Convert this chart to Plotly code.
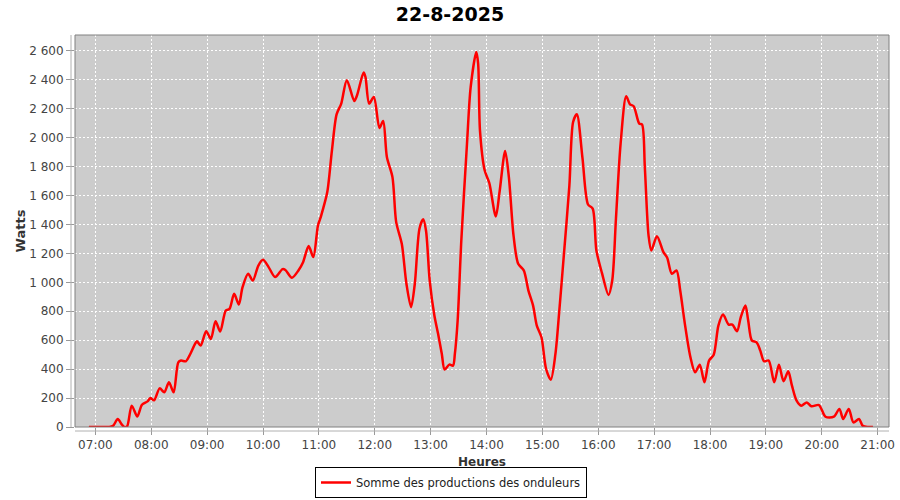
import plotly.graph_objects as go

DAY = "2025-08-22"
times = ["06:53","07:00","07:08","07:15","07:19","07:24","07:28","07:31","07:34","07:39",
         "07:45","07:50","07:56","07:59","08:03","08:09","08:14","08:19","08:24","08:29",
         "08:32","08:37","08:41","08:47","08:49","08:53","08:59","09:04","09:09","09:14",
         "09:20","09:24","09:29","09:34","09:38","09:44","09:49","09:55","10:00","10:06",
         "10:13","10:21","10:24","10:31","10:38","10:43","10:49","10:54","10:59","11:02",
         "11:04","11:09","11:14","11:19","11:24","11:30","11:38","11:41","11:48","11:50",
         "11:54","11:59","12:05","12:09","12:13","12:19","12:23","12:29","12:34","12:39",
         "12:43","12:48","12:52","12:55","12:59","13:04","13:08","13:12","13:15","13:20",
         "13:24","13:26","13:29","13:33","13:39","13:43","13:49","13:51","13:53","13:58",
         "14:03","14:10","14:14","14:20","14:24","14:29","14:34","14:40","14:45","14:50",
         "14:54","14:59","15:04","15:09","15:14","15:18","15:23","15:29","15:33","15:37",
         "15:43","15:49","15:54","15:58","16:04","16:11","16:15","16:19","16:24","16:30",
         "16:34","16:38","16:44","16:47","16:50","16:54","16:57","17:03","17:10","17:14",
         "17:19","17:24","17:28","17:33","17:39","17:44","17:49","17:54","17:59","18:04",
         "18:09","18:14","18:20","18:24","18:29","18:33","18:38","18:41","18:45","18:50",
         "18:54","18:58","19:03","19:09","19:14","19:19","19:24","19:28","19:33","19:38",
         "19:44","19:49","19:57","20:04","20:13","20:19","20:23","20:29","20:34","20:40",
         "20:44","20:49","20:55"]
watts = [0,0,0,0,8,55,20,0,4,147,
         73,154,177,200,184,267,240,309,240,447,
         459,454,493,574,592,563,662,609,731,660,
         805,816,920,846,966,1059,1012,1116,1155,1105,
         1036,1091,1085,1031,1082,1139,1250,1174,1393,1451,
         1497,1624,1912,2161,2235,2397,2253,2293,2450,2419,
         2235,2281,2066,2115,1866,1727,1416,1266,990,828,
         990,1370,1435,1358,1012,770,644,505,397,431,
         424,505,736,1296,1954,2350,2592,2512,2046,1774,
         1686,1455,1624,1907,1727,1324,1128,1082,943,839,
         701,620,401,327,505,790,1185,1670,2108,2161,
         1862,1538,1509,1220,1063,913,1012,1439,1958,2286,
         2230,2217,2097,2090,1797,1324,1220,1319,1208,1170,
         1059,1082,943,713,482,378,431,309,459,500,
         701,777,708,708,662,758,839,736,597,585,
         528,454,459,309,431,316,385,286,182,147,
         170,143,152,71,71,125,55,125,32,55,
         9,0,0]
x_ticks = ["07:00","08:00","09:00","10:00","11:00","12:00","13:00","14:00",
           "15:00","16:00","17:00","18:00","19:00","20:00","21:00"]
y_ticks = list(range(0, 2601, 200))
series_name = "Somme des productions des onduleurs"
title_text = "22-8-2025"

xs = [f"{DAY} {t}:00" for t in times]

FONT = "DejaVu Sans"

fig = go.Figure()
fig.add_trace(go.Scatter(
    x=xs, y=watts, mode="lines", name=series_name,
    line=dict(color="#ff0000", width=2.5, shape="spline", smoothing=0.8),
))

fig.update_layout(
    width=900, height=500,
    margin=dict(l=75, r=11, t=35, b=73, autoexpand=False),
    paper_bgcolor="white",
    plot_bgcolor="#cccccc",
    separators=", ",
    font=dict(family=FONT, size=12, color="#444444"),
    title=dict(text="<b>" + title_text + "</b>", x=0.5, xref="container", xanchor="center",
               y=1 - 14 / 500, yref="container", yanchor="middle",
               font=dict(family=FONT, size=19, color="#000000")),
    showlegend=True,
    legend=dict(orientation="h", x=(451 - 75) / 814, xanchor="center",
                y=-71 / 392, yanchor="bottom", bordercolor="#000000", borderwidth=1,
                bgcolor="white", font=dict(family=FONT, size=11.5, color="#222222"),
                itemwidth=30, tracegroupgap=0),
)

fig.update_xaxes(
    type="date", automargin=False,
    range=[f"{DAY} 06:38:05", f"{DAY} 21:12:13"],
    tickvals=[f"{DAY} {t}:00" for t in x_ticks],
    ticktext=x_ticks,
    ticks="outside", ticklen=7, tickcolor="#999999",
    showgrid=True, gridcolor="#ffffff", griddash="2px,2px", gridwidth=1,
    showline=False, zeroline=False,
    title=dict(text="<b>Heures</b>", standoff=6, font=dict(family=FONT, size=12, color="#333333")),
    tickfont=dict(family=FONT, size=12, color="#444444"),
)
fig.update_yaxes(
    range=[0, 2709], automargin=False,
    tickvals=y_ticks,
    tickformat=",d",
    ticks="outside", ticklen=8, tickcolor="#999999",
    showgrid=True, gridcolor="#ffffff", griddash="2px,2px", gridwidth=1,
    showline=False, zeroline=False,
    title=dict(text="<b>Watts</b>", standoff=0, font=dict(family=FONT, size=13, color="#333333")),
    tickfont=dict(family=FONT, size=12, color="#444444"),
)

# plot border and offset axis lines
fig.add_shape(type="rect", xref="paper", yref="paper", x0=0, x1=1, y0=0, y1=1,
              line=dict(color="#808080", width=1), fillcolor="rgba(0,0,0,0)", layer="above")
fig.add_shape(type="line", xref="paper", yref="paper", x0=-4 / 814, x1=-4 / 814, y0=0, y1=1,
              line=dict(color="#b0b0b0", width=1))
fig.add_shape(type="line", xref="paper", yref="paper", x0=0, x1=1, y0=-4 / 392, y1=-4 / 392,
              line=dict(color="#b0b0b0", width=1))

fig.write_html("out.html",
               config={"displayModeBar": False},
               post_script="document.body.style.margin='0';document.body.style.overflow='hidden';")
